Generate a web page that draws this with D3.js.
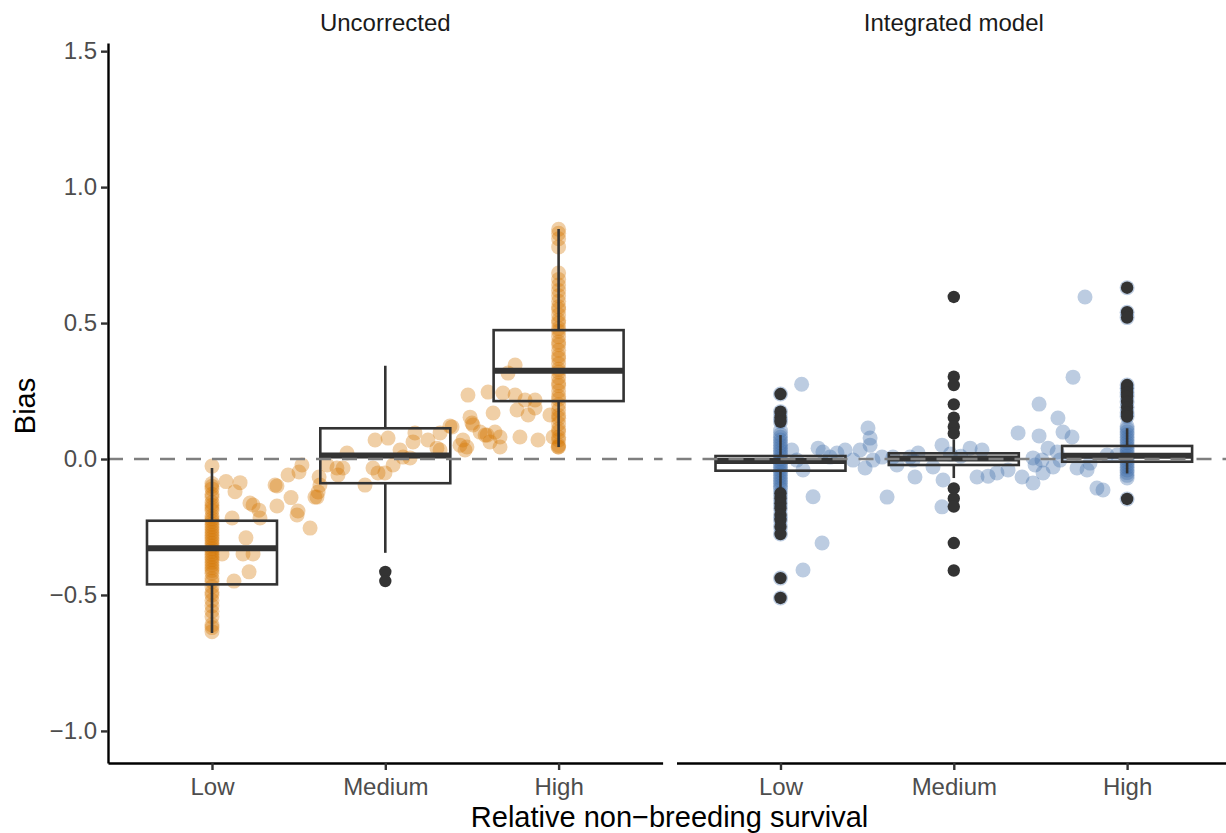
<!DOCTYPE html>
<html>
<head>
<meta charset="utf-8">
<script src="https://cdn.jsdelivr.net/npm/d3@7"></script>
<style>
    body { margin: 0; background: #fff; }
    text { font-family: "Liberation Sans", Arial, sans-serif; }
</style>
</head>
<body>
<div id="chart"></div>
<script>
var categories = ["Low", "Medium", "High"];
var panelNames = ["Uncorrected", "Integrated model"];
var yTicks = [-1.0, -0.5, 0.0, 0.5, 1.0, 1.5];

// box stats per category: [lower whisker, q1, median, q3, upper whisker]
var uncorrectedBoxes = [
    [-0.640, -0.461, -0.328, -0.227, -0.033],
    [-0.345, -0.089, 0.013, 0.113, 0.343],
    [0.044, 0.213, 0.325, 0.474, 0.846]
];
var integratedBoxes = [
    [-0.114, -0.043, -0.007, 0.011, 0.088],
    [-0.070, -0.022, 0.002, 0.021, 0.072],
    [-0.053, -0.010, 0.012, 0.048, 0.113]
];

var uncorrectedOutliers = [
    [],
    [-0.415, -0.449],
    []
];
var integratedOutliers = [
    [0.239, 0.174, 0.153, 0.137, -0.126, -0.144, -0.163, -0.181, -0.206, -0.224, -0.249, -0.276, -0.438, -0.511],
    [0.596, 0.303, 0.272, 0.201, 0.152, 0.119, 0.094, -0.108, -0.145, -0.175, -0.309, -0.410],
    [0.630, 0.540, 0.520, 0.272, 0.260, 0.245, 0.230, 0.210, 0.190, 0.170, 0.156, -0.147]
];

// points sitting right on the Low / High positions
var uncorrectedLowColumn = [-0.026, -0.09, -0.10, -0.11, -0.13, -0.14, -0.16, -0.17, -0.18, -0.19, -0.21, -0.22,
    -0.23, -0.24, -0.25, -0.26, -0.27, -0.28, -0.29, -0.30, -0.31, -0.32, -0.33, -0.34, -0.35, -0.36, -0.37,
    -0.38, -0.39, -0.40, -0.41, -0.42, -0.44, -0.45, -0.47, -0.49, -0.50, -0.52, -0.54, -0.56, -0.58, -0.61,
    -0.62, -0.635];
var uncorrectedHighColumn = [0.845, 0.83, 0.81, 0.78, 0.684, 0.66, 0.64, 0.62, 0.60, 0.58, 0.56, 0.55, 0.53,
    0.51, 0.50, 0.48, 0.47, 0.45, 0.43, 0.42, 0.40, 0.38, 0.37, 0.35, 0.33, 0.32, 0.30, 0.28, 0.27, 0.25, 0.23,
    0.22, 0.20, 0.18, 0.16, 0.15, 0.13, 0.11, 0.10, 0.08, 0.07, 0.05, 0.044];
var integratedLowColumn = [0.239, 0.174, 0.153, 0.137, 0.105, 0.09, 0.08, 0.07, 0.06, 0.05, 0.04, 0.03, 0.02,
    0.01, 0.0, -0.01, -0.02, -0.03, -0.04, -0.05, -0.06, -0.07, -0.08, -0.09, -0.10, -0.11, -0.126, -0.144,
    -0.163, -0.181, -0.206, -0.224, -0.249, -0.276, -0.438, -0.511];
var integratedHighColumn = [0.63, 0.54, 0.52, 0.272, 0.26, 0.245, 0.23, 0.21, 0.19, 0.17, 0.156, 0.12, 0.11,
    0.10, 0.09, 0.08, 0.07, 0.06, 0.05, 0.04, 0.03, 0.02, 0.01, 0.0, -0.01, -0.02, -0.03, -0.04, -0.05, -0.06,
    -0.07, -0.147];

// scattered points: [position on category axis, bias]
var uncorrectedScatter = [
    [1.081, -0.083], [1.162, -0.087], [1.133, -0.120], [1.219, -0.162], [1.237, -0.169], [1.271, -0.188],
    [1.277, -0.217], [1.116, -0.217], [1.196, -0.290], [1.179, -0.349], [1.237, -0.349], [1.058, -0.349],
    [1.214, -0.415], [1.127, -0.449], [1.364, -0.096], [1.375, -0.099], [1.375, -0.173], [1.439, -0.059],
    [1.502, -0.048], [1.519, -0.022], [1.456, -0.142], [1.496, -0.191], [1.491, -0.206], [1.566, -0.254],
    [1.606, -0.140], [1.612, -0.121], [1.618, -0.066], [1.664, -0.022], [1.721, -0.033], [1.727, -0.059],
    [1.756, -0.033], [1.779, 0.022], [1.623, -0.096], [1.594, -0.140], [1.883, -0.096], [1.941, 0.070],
    [2.016, 0.077], [1.929, -0.033], [1.958, -0.051], [1.998, -0.051], [2.045, -0.022], [2.085, 0.033],
    [2.102, 0.007], [2.143, 0.004], [2.171, 0.096], [2.160, 0.063], [2.246, 0.070], [2.298, 0.040],
    [2.316, 0.096], [2.385, 0.118], [2.431, 0.051], [2.460, 0.033], [2.477, 0.235], [2.489, 0.154],
    [2.500, 0.132], [2.547, 0.099], [2.587, 0.088], [2.593, 0.246], [2.622, 0.169], [2.749, 0.346],
    [2.708, 0.316], [2.679, 0.243], [2.749, 0.235], [2.806, 0.217], [2.864, 0.217], [2.760, 0.180],
    [2.824, 0.162], [2.864, 0.188], [2.950, 0.162], [2.506, 0.125], [2.373, 0.121], [2.576, 0.088],
    [2.633, 0.099], [2.662, 0.081], [2.448, 0.070], [2.471, 0.044], [2.604, 0.063], [2.662, 0.044],
    [2.777, 0.081], [2.881, 0.070], [2.968, 0.081], [2.997, 0.044], [2.316, 0.033]
];
var integratedScatter = [
    [1.122, 0.275], [1.065, 0.033], [1.094, -0.004], [1.130, -0.040], [1.188, -0.139], [1.240, -0.309],
    [1.130, -0.408], [1.217, 0.040], [1.245, 0.026], [1.286, 0.007], [1.326, 0.022], [1.373, 0.033],
    [1.419, -0.004], [1.459, 0.033], [1.488, -0.033], [1.505, 0.114], [1.517, 0.077], [1.517, 0.051],
    [1.534, -0.004], [1.586, 0.007], [1.615, -0.140], [1.649, 0.007], [1.672, -0.022], [1.747, 0.007],
    [1.765, -0.004], [1.794, 0.022], [1.776, -0.066], [1.880, -0.029], [1.932, 0.051], [1.938, -0.077],
    [1.932, -0.176], [2.688, 0.301], [2.492, 0.202], [2.601, 0.151], [2.371, 0.096], [2.492, 0.085],
    [2.630, 0.099], [2.682, 0.081], [2.544, 0.040], [2.596, 0.026], [2.457, 0.004], [2.509, -0.004],
    [2.469, -0.022], [2.573, -0.029], [2.613, -0.004], [2.394, -0.066], [2.457, -0.088], [2.515, -0.051],
    [2.134, -0.066], [2.198, -0.063], [2.249, -0.051], [2.313, -0.040], [2.094, 0.040], [2.163, 0.033],
    [2.826, -0.107], [2.861, -0.114], [2.711, -0.033], [2.769, -0.040], [2.786, -0.015], [2.884, 0.015],
    [2.942, 0.015], [2.757, 0.596], [1.980, 0.018], [2.040, 0.010]
];

var width = 1226, height = 833;
var panelTop = 43, panelBottom = 763, panelWidth = 554.6;
var panelLeft = [108, 676.5];

var svg = d3.select("#chart").append("svg")
    .attr("width", width)
    .attr("height", height);

var y = d3.scaleLinear()
    .domain([-1.118, 1.53])
    .range([panelBottom, panelTop]);

var panelData = [
    {
        name: panelNames[0], colour: "#D47500", boxes: uncorrectedBoxes, outliers: uncorrectedOutliers,
        low: uncorrectedLowColumn, high: uncorrectedHighColumn, scatter: uncorrectedScatter
    },
    {
        name: panelNames[1], colour: "#3F6EA8", boxes: integratedBoxes, outliers: integratedOutliers,
        low: integratedLowColumn, high: integratedHighColumn, scatter: integratedScatter
    }
];

panelData.forEach(function(p, i) {
    var x = d3.scaleLinear()
        .domain([0.4, 3.6])
        .range([panelLeft[i], panelLeft[i] + panelWidth]);

    var g = svg.append("g");

    // all points for the panel
    var pts = [];
    p.low.forEach(function(v) { pts.push([1, v]); });
    p.high.forEach(function(v) { pts.push([3, v]); });
    p.scatter.forEach(function(d) { pts.push(d); });

    g.selectAll(".pt")
        .data(pts)
        .enter().append("circle")
        .attr("class", "pt")
        .attr("cx", function(d) { return x(d[0]); })
        .attr("cy", function(d) { return y(d[1]); })
        .attr("r", 7.5)
        .style("fill", p.colour)
        .style("fill-opacity", 0.35);

    var boxW = 0.75 * (x(2) - x(1));
    var box = g.selectAll(".box")
        .data(p.boxes)
        .enter().append("g")
        .attr("class", "box");

    box.append("line")
        .attr("x1", function(d, j) { return x(j + 1); })
        .attr("x2", function(d, j) { return x(j + 1); })
        .attr("y1", function(d) { return y(d[3]); })
        .attr("y2", function(d) { return y(d[4]); })
        .style("stroke", "#333333").style("stroke-width", 2.6);
    box.append("line")
        .attr("x1", function(d, j) { return x(j + 1); })
        .attr("x2", function(d, j) { return x(j + 1); })
        .attr("y1", function(d) { return y(d[1]); })
        .attr("y2", function(d) { return y(d[0]); })
        .style("stroke", "#333333").style("stroke-width", 2.6);
    box.append("rect")
        .attr("x", function(d, j) { return x(j + 1) - boxW / 2; })
        .attr("y", function(d) { return y(d[3]); })
        .attr("width", boxW)
        .attr("height", function(d) { return y(d[1]) - y(d[3]); })
        .style("fill", "none")
        .style("stroke", "#333333").style("stroke-width", 2.6);
    box.append("line")
        .attr("x1", function(d, j) { return x(j + 1) - boxW / 2; })
        .attr("x2", function(d, j) { return x(j + 1) + boxW / 2; })
        .attr("y1", function(d) { return y(d[2]); })
        .attr("y2", function(d) { return y(d[2]); })
        .style("stroke", "#333333").style("stroke-width", 6);

    var outs = [];
    p.outliers.forEach(function(list, j) {
        list.forEach(function(v) { outs.push([j + 1, v]); });
    });
    g.selectAll(".out")
        .data(outs)
        .enter().append("circle")
        .attr("class", "out")
        .attr("cx", function(d) { return x(d[0]); })
        .attr("cy", function(d) { return y(d[1]); })
        .attr("r", 6.2)
        .style("fill", "#333333");

    // reference line at zero
    g.append("line")
        .attr("x1", x.range()[0])
        .attr("x2", Math.min(x.range()[1], width))
        .attr("y1", y(0))
        .attr("y2", y(0))
        .style("stroke", "#7F7F7F")
        .style("stroke-width", 2.4)
        .style("stroke-dasharray", "15,11");

    var xAxis = d3.axisBottom(x)
        .tickValues([1, 2, 3])
        .tickFormat(function(d) { return categories[d - 1]; })
        .tickSizeInner(7)
        .tickSizeOuter(0)
        .tickPadding(8);

    var ax = svg.append("g")
        .attr("transform", "translate(0," + panelBottom + ")")
        .call(xAxis);
    ax.select(".domain").style("stroke", "#000").style("stroke-width", 2.4);
    ax.selectAll(".tick line").style("stroke", "#333333").style("stroke-width", 2.4);
    ax.selectAll(".tick text")
        .style("font-size", "24px")
        .style("fill", "#4D4D4D");

    svg.append("text")
        .attr("x", panelLeft[i] + panelWidth / 2)
        .attr("y", 30.5)
        .style("text-anchor", "middle")
        .style("font-size", "24px")
        .style("fill", "#1A1A1A")
        .text(p.name);
});

var yAxis = d3.axisLeft(y)
    .tickValues(yTicks)
    .tickFormat(d3.format(".1f"))
    .tickSizeInner(7)
    .tickSizeOuter(0)
    .tickPadding(4);

var ay = svg.append("g")
    .attr("transform", "translate(" + panelLeft[0] + ",0)")
    .call(yAxis);
ay.select(".domain").style("stroke", "#000").style("stroke-width", 2.4);
ay.selectAll(".tick line").style("stroke", "#333333").style("stroke-width", 2.4);
ay.selectAll(".tick text")
    .style("font-size", "24px")
    .style("fill", "#4D4D4D");

svg.append("text")
    .attr("transform", "translate(35," + ((panelTop + panelBottom) / 2 + 3) + ") rotate(-90)")
    .style("text-anchor", "middle")
    .style("font-size", "29px")
    .style("fill", "#000")
    .text("Bias");

svg.append("text")
    .attr("x", (panelLeft[0] + panelLeft[1] + panelWidth) / 2)
    .attr("y", 827)
    .style("text-anchor", "middle")
    .style("font-size", "29px")
    .style("fill", "#000")
    .text("Relative non\u2212breeding survival");
</script>
</body>
</html>
